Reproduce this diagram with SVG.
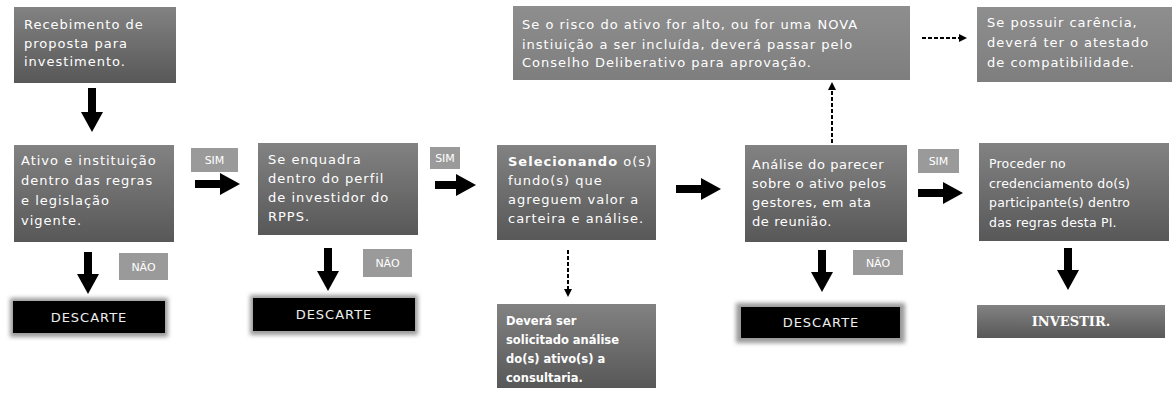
<svg xmlns="http://www.w3.org/2000/svg" width="1173" height="399" viewBox="0 0 1173 399">
<defs>
<linearGradient id="g1" x1="0" y1="0" x2="0" y2="1">
<stop offset="0" stop-color="#828282"/>
<stop offset="1" stop-color="#585858"/>
</linearGradient>
<linearGradient id="g2" x1="0" y1="0" x2="0" y2="1">
<stop offset="0" stop-color="#8e8e8e"/>
<stop offset="1" stop-color="#7e7e7e"/>
</linearGradient>
<filter id="blur" x="-10%" y="-30%" width="120%" height="160%">
<feGaussianBlur stdDeviation="2"/>
</filter>
<marker id="ah" viewBox="0 0 20 22" refX="8" refY="11" markerWidth="20" markerHeight="22" markerUnits="userSpaceOnUse" orient="auto">
<path d="M0,0 L20,11 L0,22 z" fill="#000"/>
</marker>
<marker id="dh" viewBox="0 0 8 8" refX="3" refY="4" markerWidth="8" markerHeight="8" markerUnits="userSpaceOnUse" orient="auto">
<path d="M0,0 L8,4 L0,8 z" fill="#000"/>
</marker>
</defs>
<style>
.box{fill:url(#g1)}
.lbox{fill:url(#g2)}
.tag{fill:#9a9a9a}
.t{font-family:"DejaVu Sans",sans-serif;font-size:13px;letter-spacing:1px;fill:#fff}
.t6{font-family:"DejaVu Sans",sans-serif;font-size:13px;letter-spacing:0.6px;fill:#fff}
.t7{font-family:"DejaVu Sans",sans-serif;font-size:12.5px;letter-spacing:0.2px;fill:#fff}
.ts{font-family:"DejaVu Sans",sans-serif;font-size:13px;letter-spacing:1px;fill:#fff}
.tb{font-family:"DejaVu Sans",sans-serif;font-size:11.5px;font-weight:bold;fill:#fff}
.tg{font-family:"DejaVu Sans",sans-serif;font-size:11px;fill:#fff;text-anchor:middle}
.dsc{font-family:"DejaVu Sans",sans-serif;font-size:13px;fill:#eee;text-anchor:middle;letter-spacing:1px}
.solid{stroke:#000;stroke-width:8;fill:none;marker-end:url(#ah)}
.dash{stroke:#000;stroke-width:2;stroke-dasharray:4 2;fill:none;marker-end:url(#dh)}
</style>
<rect width="1173" height="399" fill="#fff"/>

<g id="n1">
<rect class="box" x="14" y="7" width="162" height="76"/>
<text class="t"><tspan x="24" y="29">Recebimento de</tspan><tspan x="24" y="48">proposta para</tspan><tspan x="24" y="66">investimento.</tspan></text>
</g>
<g id="n2">
<rect class="box" x="14" y="145" width="160" height="97"/>
<text class="t"><tspan x="21" y="165">Ativo e instituição</tspan><tspan x="21" y="185">dentro das regras</tspan><tspan x="21" y="205">e legislação</tspan><tspan x="21" y="225">vigente.</tspan></text>
</g>
<g id="n3">
<rect class="box" x="258" y="143" width="160" height="92"/>
<text class="t"><tspan x="268" y="164">Se enquadra</tspan><tspan x="268" y="183">dentro do perfil</tspan><tspan x="268" y="202">de investidor do</tspan><tspan x="268" y="221">RPPS.</tspan></text>
</g>
<g id="n4">
<rect class="box" x="497" y="145" width="159" height="95"/>
<text class="t"><tspan x="508" y="166" font-weight="bold">Selecionando</tspan><tspan> o(s)</tspan><tspan x="508" y="185">fundo(s) que</tspan><tspan x="508" y="204">agreguem valor a</tspan><tspan x="508" y="223">carteira e análise.</tspan></text>
</g>
<g id="n5">
<rect class="box" x="497" y="304" width="159" height="84"/>
<text class="tb"><tspan x="506" y="325">Deverá ser</tspan><tspan x="506" y="344">solicitado análise</tspan><tspan x="506" y="363">do(s) ativo(s) a</tspan><tspan x="506" y="382">consultaria.</tspan></text>
</g>
<g id="n6">
<rect class="box" x="745" y="145" width="162" height="97"/>
<text class="t6"><tspan x="752" y="169">Análise do parecer</tspan><tspan x="752" y="188">sobre o ativo pelos</tspan><tspan x="752" y="207">gestores, em ata</tspan><tspan x="752" y="226">de reunião.</tspan></text>
</g>
<g id="n7">
<rect class="box" x="979" y="143" width="190" height="98"/>
<text class="t7"><tspan x="989" y="168">Proceder no</tspan><tspan x="989" y="188">credenciamento do(s)</tspan><tspan x="989" y="207">participante(s) dentro</tspan><tspan x="989" y="227">das regras desta PI.</tspan></text>
</g>
<g id="n8">
<rect class="lbox" x="513" y="6" width="397" height="74"/>
<text class="ts"><tspan x="522" y="29">Se o risco do ativo for alto, ou for uma NOVA</tspan><tspan x="522" y="49">instiuição a ser incluída, deverá passar pelo</tspan><tspan x="522" y="67">Conselho Deliberativo para aprovação.</tspan></text>
</g>
<g id="n9">
<rect class="lbox" x="977" y="7" width="195" height="75"/>
<text class="ts"><tspan x="987" y="27">Se possuir carência,</tspan><tspan x="987" y="47">deverá ter o atestado</tspan><tspan x="987" y="67">de compatibilidade.</tspan></text>
</g>

<g id="d1">
<rect x="10" y="298" width="158" height="39" fill="#9a9a9a" filter="url(#blur)"/>
<rect x="13" y="301" width="152" height="32" fill="#000"/>
<text class="dsc" x="89" y="322">DESCARTE</text>
</g>
<g id="d2">
<rect x="250" y="295" width="168" height="40" fill="#9a9a9a" filter="url(#blur)"/>
<rect x="253" y="298" width="162" height="33" fill="#000"/>
<text class="dsc" x="334" y="319">DESCARTE</text>
</g>
<g id="d3">
<rect x="736" y="303" width="169" height="40" fill="#9a9a9a" filter="url(#blur)"/>
<rect x="741" y="307" width="159" height="31" fill="#000"/>
<text class="dsc" x="821" y="327">DESCARTE</text>
</g>
<g id="inv">
<rect class="box" x="977" y="305" width="188" height="33"/>
<text x="1071" y="326" font-family="DejaVu Serif,serif" font-size="13" font-weight="bold" fill="#fff" text-anchor="middle">INVESTIR.</text>
</g>

<g id="tags">
<rect class="tag" x="191" y="148" width="47" height="24"/>
<text class="tg" x="214.5" y="164">SIM</text>
<rect class="tag" x="430" y="147" width="30" height="22"/>
<text class="tg" x="445" y="162">SIM</text>
<rect class="tag" x="918" y="149" width="41" height="24"/>
<text class="tg" x="938.5" y="165">SIM</text>
<rect class="tag" x="119" y="253" width="49" height="27"/>
<text class="tg" x="143.5" y="271">NÃO</text>
<rect class="tag" x="363" y="249" width="49" height="28"/>
<text class="tg" x="387.5" y="267">NÃO</text>
<rect class="tag" x="853" y="250" width="50" height="25"/>
<text class="tg" x="878" y="267">NÃO</text>
</g>

<g id="connectors">
<line class="solid" x1="92" y1="88" x2="92" y2="120"/>
<line class="solid" x1="195" y1="184" x2="228" y2="184"/>
<line class="solid" x1="435" y1="185" x2="464" y2="185"/>
<line class="solid" x1="676" y1="189" x2="709" y2="189"/>
<line class="solid" x1="918" y1="193" x2="951" y2="193"/>
<line class="solid" x1="88" y1="252" x2="88" y2="282"/>
<line class="solid" x1="328" y1="248" x2="328" y2="279"/>
<line class="solid" x1="822" y1="250" x2="822" y2="280"/>
<line class="solid" x1="1068" y1="248" x2="1068" y2="278"/>
<line class="dash" x1="568" y1="250" x2="568" y2="292"/>
<line class="dash" x1="832" y1="143" x2="832" y2="87"/>
<line class="dash" x1="922" y1="38" x2="962" y2="38"/>
</g>
</svg>
